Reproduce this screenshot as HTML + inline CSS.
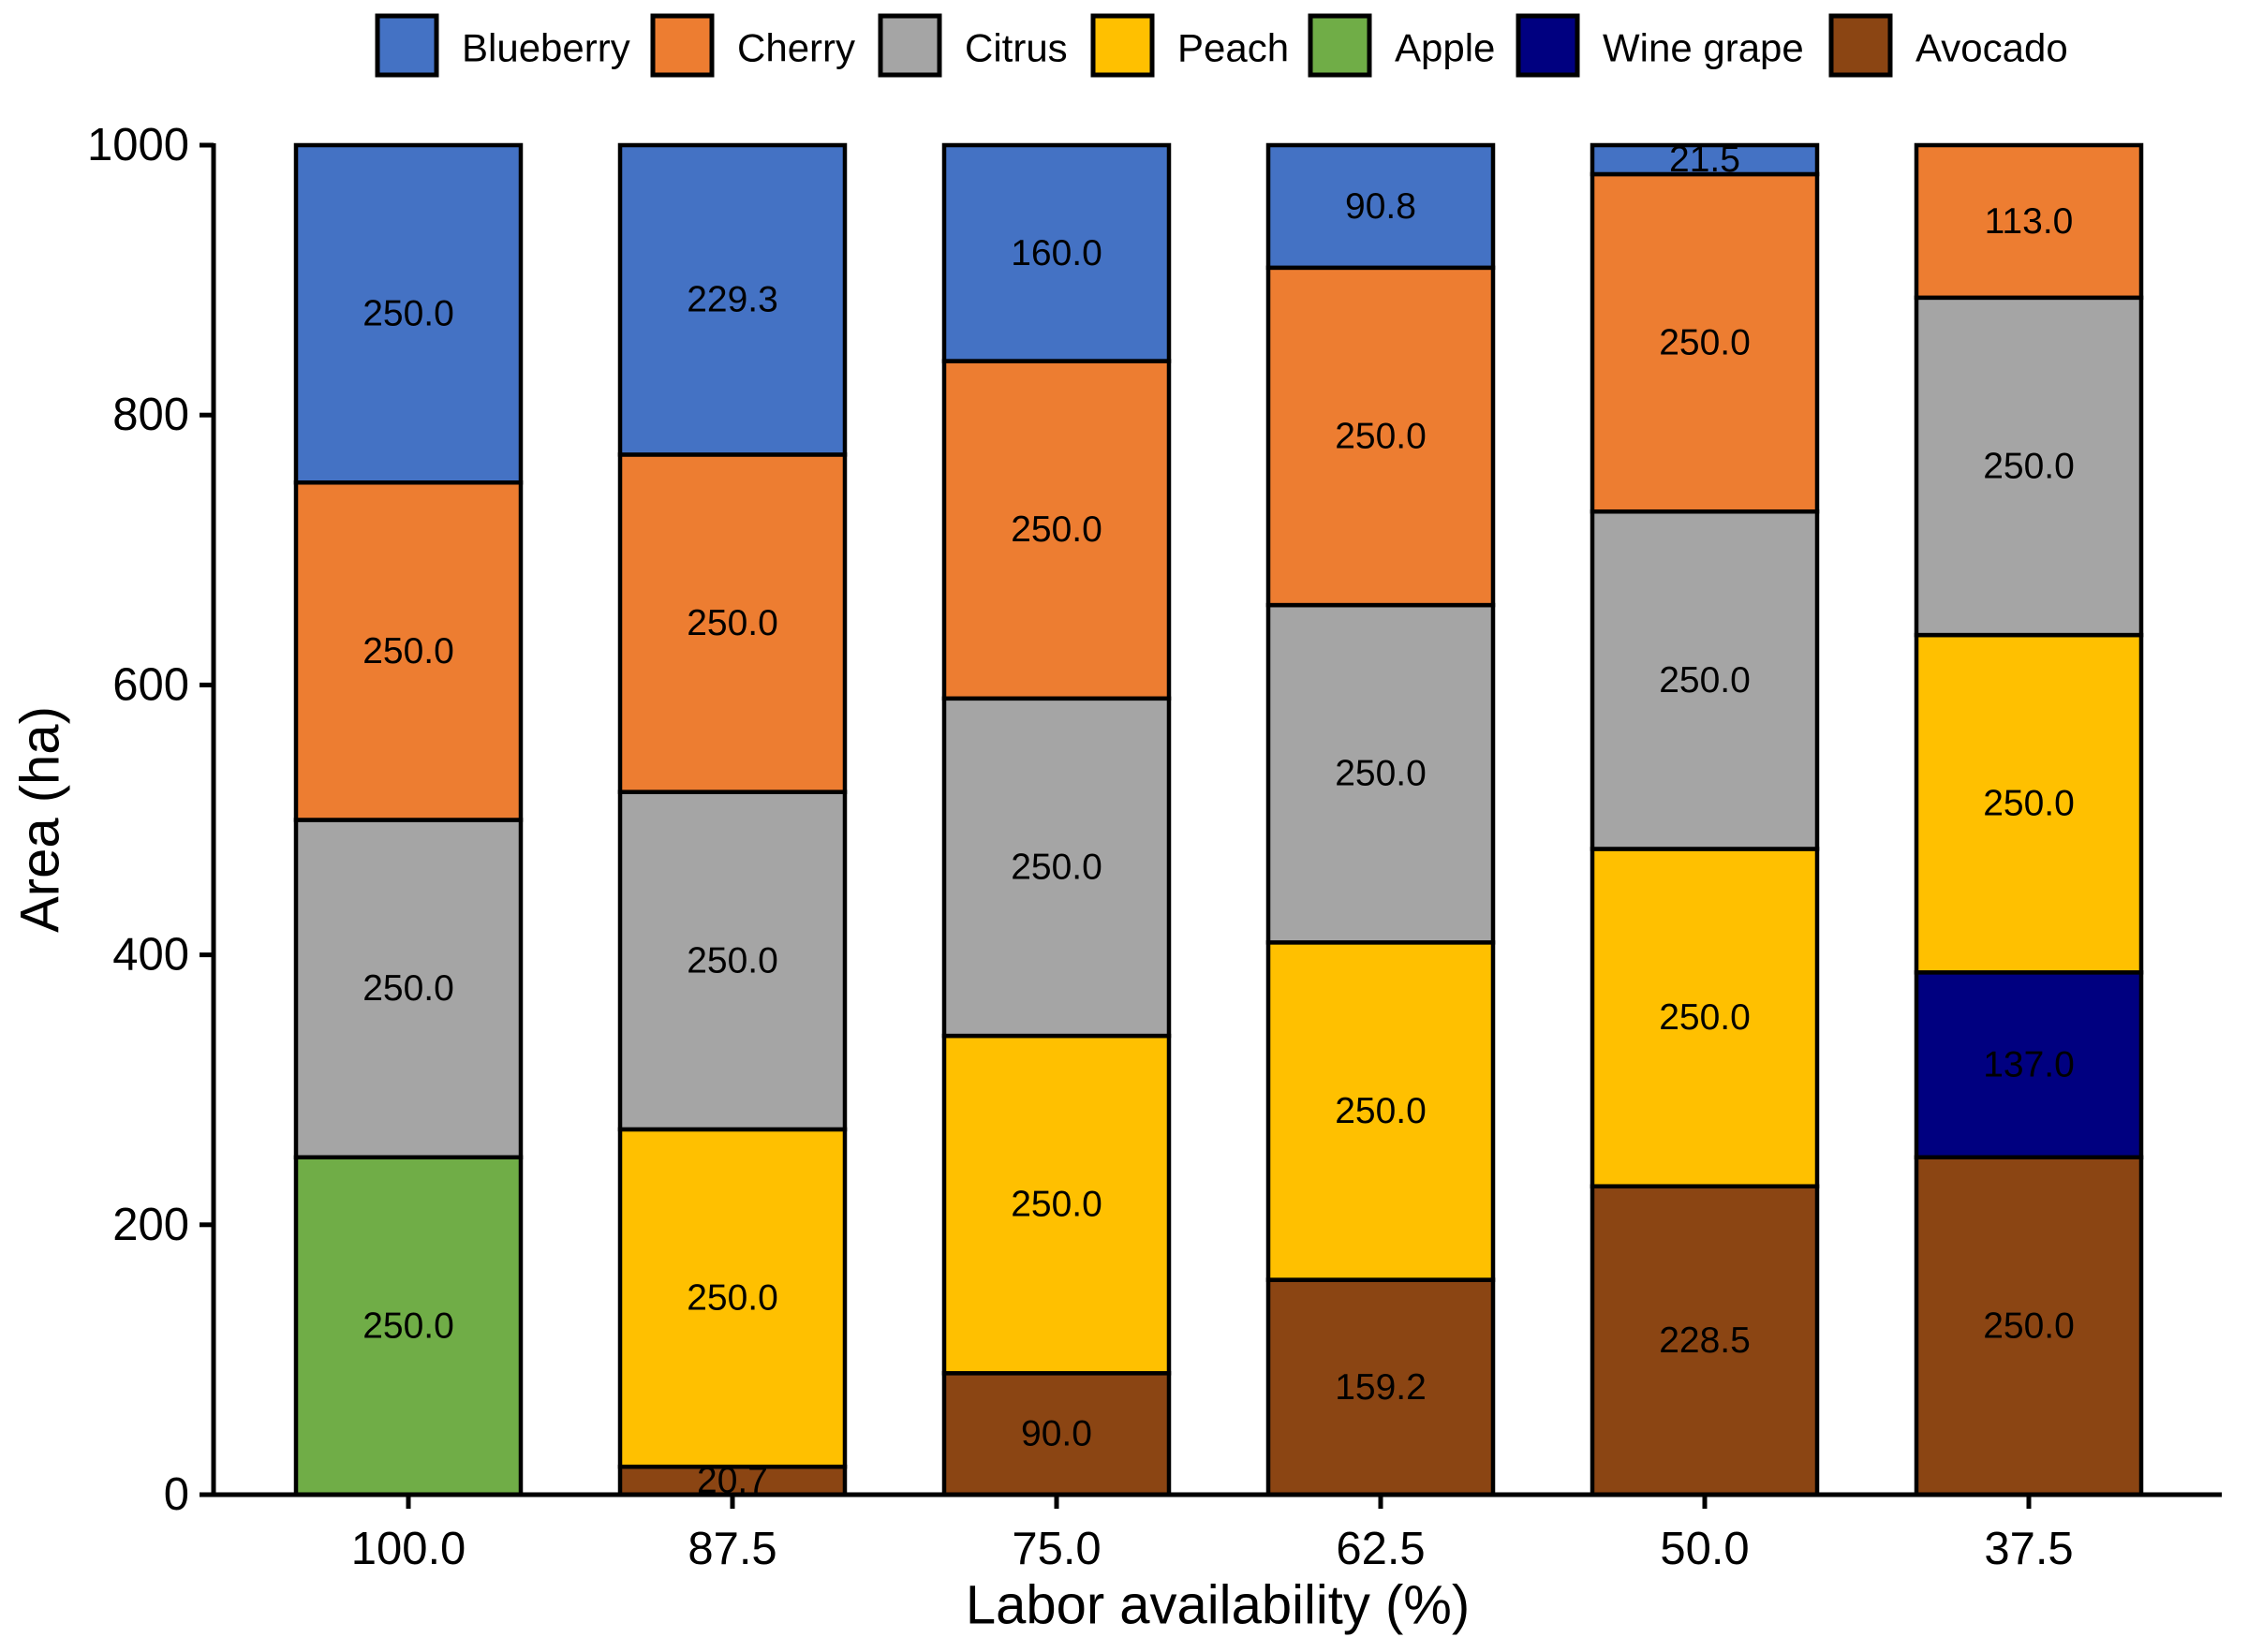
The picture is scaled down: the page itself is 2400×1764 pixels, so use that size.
<!DOCTYPE html>
<html><head><meta charset="utf-8"><style>
html,body{margin:0;padding:0;background:#fff}
svg{display:block;font-family:"Liberation Sans",Arial,sans-serif}
</style></head><body>
<svg id="chart" width="2400" height="1764" viewBox="0 0 2400 1764" xmlns="http://www.w3.org/2000/svg">
<g id="legend"></g>
<g id="bars"></g>
<g id="axes"></g>
<text x="43" y="875" font-size="58" text-anchor="middle" dominant-baseline="central" transform="rotate(-90 43 875)">Area (ha)</text>
<text x="1300" y="1714" font-size="58" text-anchor="middle" dominant-baseline="central">Labor availability (%)</text>
</svg>
<script>
const categories = ["100.0","87.5","75.0","62.5","50.0","37.5"];
const seriesNames = ["Avocado","Wine grape","Apple","Peach","Citrus","Cherry","Blueberry"];
const avocado   = [0, 20.7, 90.0, 159.2, 228.5, 250.0];
const winegrape = [0, 0, 0, 0, 0, 137.0];
const apple     = [250.0, 0, 0, 0, 0, 0];
const peach     = [0, 250.0, 250.0, 250.0, 250.0, 250.0];
const citrus    = [250.0, 250.0, 250.0, 250.0, 250.0, 250.0];
const cherry    = [250.0, 250.0, 250.0, 250.0, 250.0, 113.0];
const blueberry = [250.0, 229.3, 160.0, 90.8, 21.5, 0];
const yTicks = [0, 200, 400, 600, 800, 1000];
const legendOrder = ["Blueberry","Cherry","Citrus","Peach","Apple","Wine grape","Avocado"];

const colors = {"Avocado":"#8B4513","Wine grape":"#000080","Apple":"#70AD47","Peach":"#FFC000","Citrus":"#A5A5A5","Cherry":"#ED7D31","Blueberry":"#4472C4"};
const seriesData = [avocado, winegrape, apple, peach, citrus, cherry, blueberry];
const NS = "http://www.w3.org/2000/svg";
const y0 = 1596, y1 = 155, xL = 228, xR = 2372;
const firstC = 436, step = 346, barW = 240;
function yScale(v){ return y0 - (v/1000)*(y0-y1); }
function xScale(i){ return firstC + i*step; }
function mk(tag, attrs, parent){ const e=document.createElementNS(NS,tag); for(const k in attrs) e.setAttribute(k,attrs[k]); parent.appendChild(e); return e; }
const slug = s => s.toLowerCase().replace(/\s+/g,'-');

const bars = document.getElementById('bars');
categories.forEach((c,i)=>{
  let cum = 0;
  seriesData.forEach((arr,s)=>{
    const v = arr[i];
    if(!v) return;
    const yt = yScale(cum+v), yb = yScale(cum);
    const r = mk('rect',{x:xScale(i)-barW/2,y:yt,width:barW,height:yb-yt,fill:colors[seriesNames[s]],stroke:'#000','stroke-width':4.5},bars);
    
    
    const t = mk('text',{x:xScale(i),y:(yt+yb)/2,'font-size':39,'text-anchor':'middle','dominant-baseline':'central'},bars);
    t.textContent = v.toFixed(1);
    
    
    cum += v;
  });
});

const axes = document.getElementById('axes');
const ya = mk('line',{x1:xL,y1:y1-2,x2:xL,y2:y0+2,stroke:'#000','stroke-width':5},axes);


const xa = mk('line',{x1:xL-2,y1:y0,x2:xR,y2:y0,stroke:'#000','stroke-width':5},axes);


yTicks.forEach(v=>{
  const y = yScale(v);
  const tk = mk('line',{x1:xL-15,y1:y,x2:xL,y2:y,stroke:'#000','stroke-width':5},axes);
  
  
  const t = mk('text',{x:xL-26,y:y,'font-size':49,'text-anchor':'end','dominant-baseline':'central'},axes);
  t.textContent = v;
  
  
});
categories.forEach((c,i)=>{
  const x = xScale(i);
  const tk = mk('line',{x1:x,y1:y0,x2:x,y2:y0+15,stroke:'#000','stroke-width':5},axes);
  
  
  const t = mk('text',{x:x,y:1654,'font-size':49,'text-anchor':'middle','dominant-baseline':'central'},axes);
  t.textContent = c;
  
  
});

const legend = document.getElementById('legend');
const boxX = [401, 695, 938, 1165, 1397, 1619, 1953];
legendOrder.forEach((n,k)=>{
  const g = mk('g',{},legend);
  
  
  mk('rect',{x:boxX[k]+2,y:17,width:63,height:63,fill:colors[n],stroke:'#000','stroke-width':5},g);
  const t = mk('text',{x:boxX[k]+92,y:51,'font-size':42,'dominant-baseline':'central'},g);
  t.textContent = n;
});
</script>
</body></html>
